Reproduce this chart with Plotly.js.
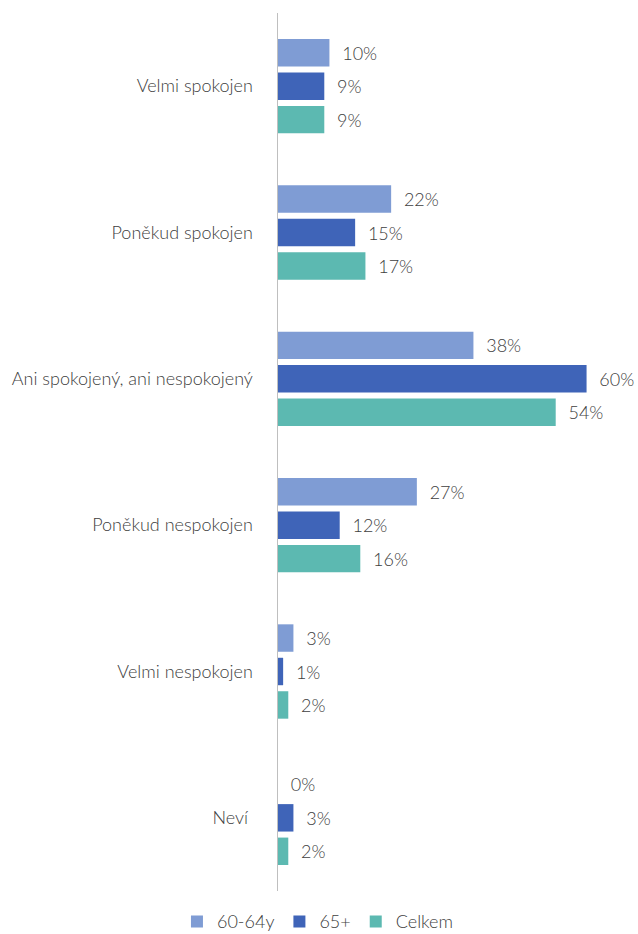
<!DOCTYPE html>
<html>
<head>
<meta charset="utf-8">
<script src="https://cdn.plot.ly/plotly-3.0.1.min.js"></script>
<style>html,body{margin:0;padding:0;background:#fff;}#chart{width:638px;height:934px;}</style>
</head>
<body>
<div id="chart"></div>
<script>
const categories = ["Velmi spokojen", "Poněkud spokojen", "Ani spokojený, ani nespokojený", "Poněkud nespokojen", "Velmi nespokojen", "Neví "];
const seriesNames = ["60-64y", "65+", "Celkem"];
const values6064 = [0.10, 0.22, 0.38, 0.27, 0.03, 0.00];
const values65 = [0.09, 0.15, 0.60, 0.12, 0.01, 0.03];
const valuesCelkem = [0.09, 0.17, 0.54, 0.16, 0.02, 0.02];
const colors = ["#7F9CD4", "#3F64B8", "#5CB9B1"];

const allValues = [values6064, values65, valuesCelkem];
const traces = allValues.map((vals, i) => ({
  type: 'bar',
  orientation: 'h',
  name: seriesNames[i],
  y: categories,
  x: vals,
  marker: {color: colors[i]},
  text: vals.map(v => '  ' + Math.round(v * 100) + '%'),
  textposition: 'outside',
  cliponaxis: false,
  textfont: {family: 'Lato, sans-serif', size: 18, color: '#404040', weight: 300},
  hoverinfo: 'none'
}));

const layout = {
  width: 638, height: 934,
  margin: {l: 278, r: 0, t: 13, b: 43, autoexpand: false},
  paper_bgcolor: '#fff', plot_bgcolor: '#fff',
  barmode: 'group',
  bargap: 0.314,
  bargroupgap: 0.18,
  font: {family: 'Lato, sans-serif', color: '#404040', size: 18, weight: 300},
  xaxis: {range: [0, 0.70], visible: false, showgrid: false, zeroline: false, fixedrange: true},
  yaxis: {
    autorange: 'reversed', showgrid: false, zeroline: false,
    showline: true, linecolor: '#BFBFBF', linewidth: 1.5,
    ticks: '', ticklabelstandoff: 20,
    tickfont: {family: 'Lato, sans-serif', size: 18, color: '#404040', weight: 300}
  },
  showlegend: true,
  legend: {
    orientation: 'h', xref: 'paper', yref: 'paper',
    x: 0.111, xanchor: 'center', y: -0.035, yanchor: 'middle',
    font: {family: 'Lato, sans-serif', size: 18, color: '#404040', weight: 300},
    traceorder: 'normal'
  }
};

Plotly.newPlot('chart', traces, layout, {displayModeBar: false, staticPlot: true});
</script>
</body>
</html>
